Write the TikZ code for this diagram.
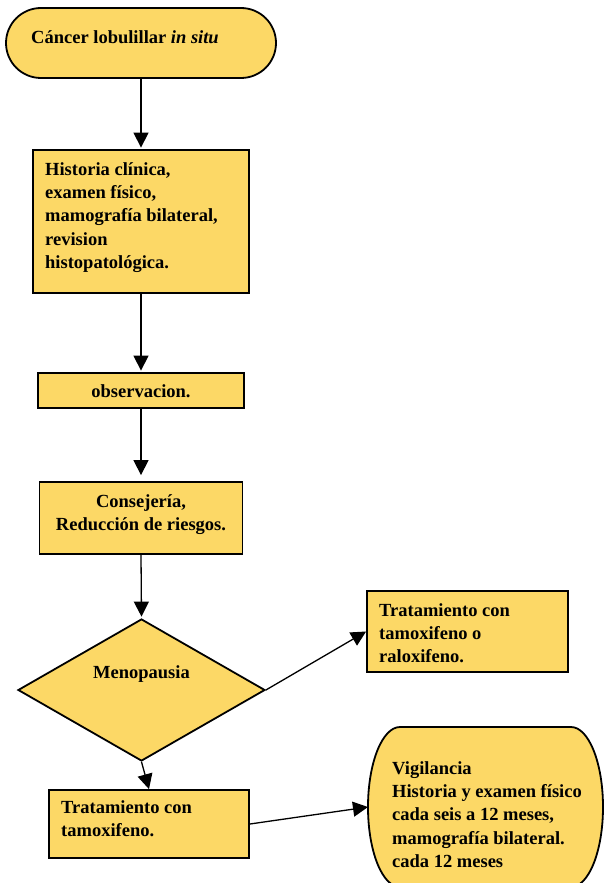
\documentclass[tikz,border=0pt]{standalone}
\usepackage{fontspec}
\setmainfont{Liberation Serif}
\usetikzlibrary{arrows.meta,shapes.geometric,shapes.misc}
\definecolor{boxfill}{RGB}{252,216,102}
% invisible strut that fixes the height of a block's first line
\newcommand{\firstline}{\rule{0pt}{15pt}}
\begin{document}
\begin{tikzpicture}[x=1pt,y=-1pt,
  shapebox/.style={draw=black, line width=1.8pt, fill=boxfill, inner sep=0pt},
  flowbox/.style={shapebox, rectangle},
  txt/.style={inner sep=0pt, font=\bfseries\fontsize{18.5}{23.3}\selectfont, align=left},
  ctxt/.style={txt, align=center},
  link/.style={line width=1.3pt, -{Triangle[length=15pt,width=15pt]}},
]
\useasboundingbox (0,0) rectangle (604,883);

% shapes
\node[shapebox, rounded rectangle, minimum width=270pt, minimum height=70pt] (start) at (141,43) {};
\node[flowbox, minimum width=216pt, minimum height=143pt] (hist) at (141,221.5) {};
\node[flowbox, minimum width=206pt, minimum height=35pt] (obs) at (141,390.5) {};
\node[flowbox, minimum width=203pt, minimum height=72pt] (cons) at (141,518) {};
\node[shapebox, diamond, minimum width=247pt, minimum height=142pt] (meno) at (141.5,690) {};
\node[flowbox, minimum width=201pt, minimum height=81pt] (tamral) at (467.5,631.5) {};
\node[flowbox, minimum width=200pt, minimum height=68pt] (tam) at (149,824) {};
\node[rectangle, minimum width=235pt, minimum height=160pt, inner sep=0pt, outer sep=0pt] (vig) at (485.5,807) {};

% surveillance box: flat top and bottom, elliptic sides
\begin{scope}
  \clip (0,0) rectangle (604,883);
  \draw[line width=1.8pt, fill=boxfill]
    ([xshift=32pt]vig.north west) -- ([xshift=-32pt]vig.north east)
    arc[start angle=90, end angle=0, x radius=32pt, y radius=80pt]
    arc[start angle=0, end angle=-90, x radius=32pt, y radius=80pt]
    -- ([xshift=32pt]vig.south west)
    arc[start angle=270, end angle=180, x radius=32pt, y radius=80pt]
    arc[start angle=180, end angle=90, x radius=32pt, y radius=80pt]
    -- cycle;
\end{scope}

% texts
\node[txt, anchor=base west] (tstart) at (31,44) {Cáncer lobulillar \textit{in situ}};
\node[txt, anchor=north west] (thist) at (45,160) {\firstline Historia clínica,\\examen físico,\\mamografía bilateral,\\revision\\histopatológica.};
\node[ctxt, anchor=base] (tobs) at (141,397) {observacion.};
\node[ctxt, anchor=north] (tcons) at (141,492) {\firstline Consejería,\\Reducción de riesgos.};
\node[ctxt, anchor=base] (tmeno) at (141.5,678) {Menopausia};
\node[txt, anchor=north west] (ttamral) at (379,601) {\firstline Tratamiento con\\tamoxifeno o\\raloxifeno.};
\node[txt, anchor=north west] (ttam) at (61,798) {\firstline Tratamiento con\\tamoxifeno.};
\node[txt, anchor=north west] (tvig) at (392,759) {\firstline Vigilancia\\Historia y examen físico\\cada seis a 12 meses,\\mamografía bilateral.\\cada 12 meses};

% connectors
\draw[link, shorten >=1.5pt] (start.south) -- (hist.north);
\draw[link, shorten >=1.5pt] (hist.south) -- (obs.north);
\draw[link, shorten >=6pt] (obs.south) -- (cons.north);
\draw[link, shorten >=1.5pt] (cons.south) -- (meno.north);
\draw[link] (meno.east) -- (tamral.west);
\draw[link] (meno.south) -- (tam.north);
\draw[link] (tam.east) -- (vig.west);
\end{tikzpicture}
\end{document}
